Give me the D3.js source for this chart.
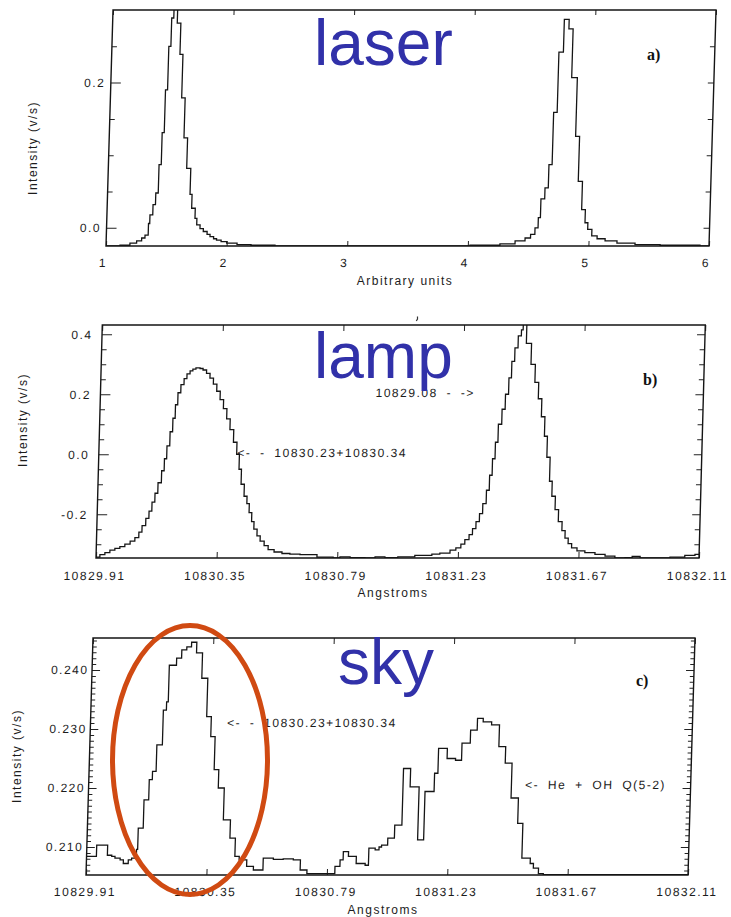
<!DOCTYPE html>
<html>
<head>
<meta charset="utf-8">
<script src="https://cdn.jsdelivr.net/npm/d3@7"></script>
<style>
  html, body { margin: 0; padding: 0; background: #fff; }
  svg { display: block; }
  .tick text, .lbl {
    font-family: "Liberation Sans", Arial, sans-serif;
    font-size: 12px;
    letter-spacing: 1.5px;
    fill: #1c1c1c;
  }
  .note { word-spacing: 4px; white-space: pre; }
  .tick line { stroke: #222; stroke-width: 1; }
  .frame { fill: none; stroke: #151515; stroke-width: 1.4; }
  .trace { fill: none; stroke: #151515; stroke-width: 1.3; stroke-linejoin: miter; }
  .tag { font-family: "Liberation Serif", "Times New Roman", serif; font-size: 16px; font-weight: bold; fill: #111; }
  .big { font-family: "Liberation Sans", Arial, sans-serif; font-size: 64px; fill: #3131a9; }
</style>
</head>
<body>
<svg id="fig" width="731" height="917"></svg>
<script>
// ---------- a) laser scan: bin left edges (arbitrary units) and intensity (v/s) ----------
const laserX = [1.000, 1.116, 1.198, 1.253, 1.294, 1.321, 1.347, 1.357, 1.380, 1.400,
  1.420, 1.438, 1.455, 1.472, 1.489, 1.506, 1.536, 1.566, 1.591, 1.620,
  1.650, 1.684, 1.701, 1.731, 1.747, 1.775, 1.803, 1.835, 1.860, 1.890,
  1.915, 1.953, 2.000, 2.086, 2.202, 2.401, 4.018, 4.266, 4.391, 4.473,
  4.518, 4.553, 4.578, 4.595, 4.626, 4.653, 4.679, 4.708, 4.745, 4.785,
  4.820, 4.867, 4.900, 4.935, 4.966, 4.990, 5.025, 5.070, 5.137, 5.236,
  5.386, 5.594, 5.925, 6.000];
const laserY = [-0.025, -0.024, -0.021, -0.018, -0.014, -0.010, 0.006, 0.018, 0.032, 0.048,
  0.087, 0.131, 0.190, 0.250, 0.289, 0.320, 0.282, 0.239, 0.179, 0.124,
  0.082, 0.046, 0.027, 0.013, 0.004, -0.001, -0.005, -0.009, -0.012, -0.015,
  -0.017, -0.019, -0.021, -0.023, -0.024, -0.025, -0.024, -0.022, -0.018, -0.014,
  -0.009, 0.000, 0.014, 0.040, 0.055, 0.087, 0.159, 0.242, 0.287, 0.274,
  0.207, 0.126, 0.064, 0.025, 0.007, -0.002, -0.011, -0.015, -0.018, -0.021,
  -0.023, -0.024, -0.025, -0.025];

// ---------- b) lamp spectrum: bin left edges (Angstroms) and intensity (v/s) ----------
const lampX = [10829.910, 10829.924, 10829.942, 10829.960, 10829.978, 10829.996, 10830.014, 10830.033, 10830.050, 10830.064,
  10830.075, 10830.088, 10830.099, 10830.109, 10830.119, 10830.129, 10830.141, 10830.150, 10830.158, 10830.168,
  10830.177, 10830.185, 10830.193, 10830.203, 10830.214, 10830.224, 10830.235, 10830.245, 10830.256, 10830.271,
  10830.282, 10830.295, 10830.308, 10830.321, 10830.334, 10830.347, 10830.360, 10830.373, 10830.386, 10830.400,
  10830.413, 10830.423, 10830.432, 10830.444, 10830.455, 10830.464, 10830.474, 10830.483, 10830.495, 10830.507,
  10830.522, 10830.537, 10830.559, 10830.588, 10830.617, 10830.654, 10830.716, 10830.775, 10830.800, 10830.837,
  10830.891, 10830.928, 10830.964, 10831.011, 10831.073, 10831.135, 10831.164, 10831.201, 10831.222, 10831.240,
  10831.254, 10831.269, 10831.281, 10831.293, 10831.305, 10831.316, 10831.328, 10831.338, 10831.347, 10831.356,
  10831.365, 10831.377, 10831.388, 10831.399, 10831.408, 10831.418, 10831.429, 10831.440, 10831.446, 10831.459,
  10831.478, 10831.494, 10831.508, 10831.521, 10831.534, 10831.545, 10831.557, 10831.567, 10831.580, 10831.593,
  10831.607, 10831.619, 10831.631, 10831.644, 10831.664, 10831.693, 10831.730, 10831.767, 10831.803, 10831.840,
  10831.866, 10831.895, 10831.949, 10832.004, 10832.058, 10832.095, 10832.110];
const lampY = [-0.343, -0.335, -0.328, -0.320, -0.314, -0.308, -0.300, -0.290, -0.278, -0.260,
  -0.238, -0.214, -0.190, -0.160, -0.130, -0.095, -0.055, -0.015, 0.028, 0.075,
  0.120, 0.165, 0.205, 0.232, 0.252, 0.268, 0.278, 0.284, 0.288, 0.286,
  0.281, 0.270, 0.254, 0.234, 0.210, 0.182, 0.152, 0.118, 0.082, 0.040,
  0.000, -0.050, -0.100, -0.140, -0.165, -0.195, -0.225, -0.250, -0.272, -0.290,
  -0.305, -0.318, -0.326, -0.331, -0.333, -0.335, -0.343, -0.346, -0.342, -0.345,
  -0.346, -0.342, -0.345, -0.342, -0.337, -0.333, -0.330, -0.320, -0.312, -0.300,
  -0.285, -0.268, -0.248, -0.225, -0.198, -0.165, -0.120, -0.070, -0.015, 0.040,
  0.100, 0.150, 0.200, 0.255, 0.310, 0.355, 0.395, 0.415, 0.450, 0.370,
  0.300, 0.240, 0.185, 0.125, 0.060, -0.010, -0.090, -0.140, -0.185, -0.225,
  -0.255, -0.280, -0.298, -0.312, -0.322, -0.328, -0.334, -0.340, -0.346, -0.345,
  -0.341, -0.346, -0.346, -0.343, -0.337, -0.334, -0.334];

// ---------- c) sky spectrum: bin left edges (Angstroms) and intensity (v/s) ----------
const skyX = [10829.910, 10829.946, 10829.986, 10830.002, 10830.014, 10830.033, 10830.045, 10830.063, 10830.075, 10830.092,
  10830.096, 10830.114, 10830.131, 10830.142, 10830.155, 10830.175, 10830.186, 10830.192, 10830.218, 10830.236,
  10830.254, 10830.271, 10830.290, 10830.312, 10830.334, 10830.351, 10830.367, 10830.384, 10830.406, 10830.432,
  10830.452, 10830.468, 10830.496, 10830.521, 10830.556, 10830.593, 10830.629, 10830.666, 10830.692, 10830.717,
  10830.819, 10830.837, 10830.848, 10830.867, 10830.896, 10830.929, 10830.941, 10830.964, 10830.978, 10830.987,
  10831.009, 10831.033, 10831.059, 10831.085, 10831.118, 10831.140, 10831.173, 10831.185, 10831.217, 10831.248,
  10831.270, 10831.300, 10831.324, 10831.345, 10831.376, 10831.405, 10831.430, 10831.455, 10831.482, 10831.501,
  10831.532, 10831.544, 10831.563, 10831.581, 10832.110];
const skyY = [0.2084, 0.2103, 0.2086, 0.2084, 0.2081, 0.2078, 0.2072, 0.2078, 0.2081, 0.2096,
  0.2132, 0.2180, 0.2214, 0.2228, 0.2273, 0.2332, 0.2346, 0.2408, 0.2420, 0.2434,
  0.2439, 0.2447, 0.2429, 0.2386, 0.2321, 0.2287, 0.2231, 0.2200, 0.2146, 0.2115,
  0.2084, 0.2078, 0.2067, 0.2061, 0.2081, 0.2079, 0.2080, 0.2078, 0.2061, 0.2055,
  0.2067, 0.2078, 0.2092, 0.2084, 0.2072, 0.2069, 0.2098, 0.2095, 0.2100, 0.2103,
  0.2115, 0.2137, 0.2233, 0.2202, 0.2112, 0.2194, 0.2225, 0.2267, 0.2250, 0.2247,
  0.2276, 0.2298, 0.2318, 0.2312, 0.2307, 0.2270, 0.2242, 0.2183, 0.2140, 0.2081,
  0.2072, 0.2064, 0.2055, 0.2053, 0.2053];

// ---------- ticks ----------
const unitTicks = [1, 2, 3, 4, 5, 6];
const angTicks = [10829.91, 10830.35, 10830.79, 10831.23, 10831.67, 10832.11];
const laserYTicks = [0.0, 0.2];
const laserYMinor = [0.05, 0.10, 0.15, 0.25];
const lampYTicks = [-0.2, 0.0, 0.2, 0.4];
const lampYMinor = [-0.30, -0.25, -0.15, -0.10, -0.05, 0.05, 0.10, 0.15, 0.25, 0.30, 0.35];
const skyYTicks = [0.210, 0.220, 0.230, 0.240];
// minor ticks every 0.001 between the labelled ones
const skyYMinor = d3.range(206, 246).filter(k => k % 10 !== 0).map(k => k / 1000);

// ---------- text ----------
const yTitle = "Intensity (v/s)";
const laserXTitle = "Arbitrary units";
const angXTitle = "Angstroms";

// plain hyphen for negative numbers, fixed decimals
const fixed = n => v => v.toFixed(n);

const svg = d3.select("#fig");
svg.append("rect").attr("width", 731).attr("height", 917).attr("fill", "#fff");

const panels = [
  { id: "a", xs: laserX, ys: laserY, xDomain: [1, 6], yDomain: [-0.025, 0.300],
    box: { l: 106, r: 709, t: 10, b: 246 }, shear: 0.0297,
    xTicks: unitTicks, xFmt: fixed(0), xShift: -3, xPad: 12.5,
    yTicks: laserYTicks, yMinor: laserYMinor, yFmt: fixed(1), yPad: 5.5,
    leftMajor: 10, leftMinor: 5, rightMajor: 6, rightMinor: 5, xTickLen: 5,
    notes: [] },
  { id: "b", xs: lampX, ys: lampY, xDomain: [10829.91, 10832.11], yDomain: [-0.346, 0.431],
    box: { l: 96, r: 699, t: 325, b: 558 }, shear: 0.027,
    xTicks: angTicks, xFmt: fixed(2), xShift: -1.5, xPad: 13.5,
    yTicks: lampYTicks, yMinor: lampYMinor, yFmt: fixed(1), yPad: 9.5,
    leftMajor: 10, leftMinor: 5, rightMajor: 8, rightMinor: 5, xTickLen: 6,
    notes: [
      { text: "<- - 10830.23+10830.34", x: 10830.415, y: 0.003, anchor: "start" },
      { text: "10829.08 - ->", x: 10831.276, y: 0.204, anchor: "end" }
    ] },
  { id: "c", xs: skyX, ys: skyY, xDomain: [10829.91, 10832.11], yDomain: [0.20525, 0.24542],
    box: { l: 86, r: 688, t: 638, b: 875 }, shear: 0.0295,
    xTicks: angTicks, xFmt: fixed(2), xShift: -1, xPad: 12.5,
    yTicks: skyYTicks, yMinor: skyYMinor, yFmt: fixed(3), yPad: 3.5,
    leftMajor: 8, leftMinor: 4, rightMajor: 8, rightMinor: 4, xTickLen: 6,
    notes: [
      { text: "<- - 10830.23+10830.34", x: 10830.409, y: 0.2310, anchor: "start" },
      { text: "<- He + OH Q(5-2)", x: 10831.505, y: 0.2205, anchor: "start" }
    ] }
];

panels.forEach(p => {
  const B = p.box;
  const deg = Math.atan(p.shear) * 180 / Math.PI;
  // each printed panel leans slightly: its top edge sits further right than its bottom edge
  const g = svg.append("g")
    .attr("transform", `translate(0,${B.b}) skewX(${-deg}) translate(0,${-B.b})`);

  const x = d3.scaleLinear().domain(p.xDomain).range([B.l, B.r]);
  const y = d3.scaleLinear().domain(p.yDomain).range([B.b, B.t]);

  const clipId = "clip-" + p.id;
  g.append("clipPath").attr("id", clipId)
    .append("rect").attr("x", B.l).attr("y", B.t)
    .attr("width", B.r - B.l).attr("height", B.b - B.t);

  const strip = sel => sel.call(s => s.select(".domain").remove());

  // bottom axis with labels
  g.append("g").attr("transform", `translate(0,${B.b})`)
    .call(d3.axisBottom(x).tickValues(p.xTicks).tickFormat(p.xFmt)
      .tickSizeInner(-p.xTickLen).tickSizeOuter(0).tickPadding(p.xPad))
    .call(strip)
    .call(s => s.selectAll(".tick text").attr("dx", p.xShift));
  // top axis ticks
  g.append("g").attr("transform", `translate(0,${B.t})`)
    .call(d3.axisTop(x).tickValues(p.xTicks).tickFormat(() => "")
      .tickSizeInner(-p.xTickLen).tickSizeOuter(0))
    .call(strip);
  // left axis: labelled majors and minors
  g.append("g").attr("transform", `translate(${B.l},0)`)
    .call(d3.axisLeft(y).tickValues(p.yTicks).tickFormat(p.yFmt)
      .tickSizeInner(-p.leftMajor).tickSizeOuter(0).tickPadding(p.yPad))
    .call(strip);
  g.append("g").attr("transform", `translate(${B.l},0)`)
    .call(d3.axisLeft(y).tickValues(p.yMinor).tickFormat(() => "")
      .tickSizeInner(-p.leftMinor).tickSizeOuter(0))
    .call(strip);
  // right axis mirror ticks
  g.append("g").attr("transform", `translate(${B.r},0)`)
    .call(d3.axisRight(y).tickValues(p.yTicks).tickFormat(() => "")
      .tickSizeInner(-p.rightMajor).tickSizeOuter(0))
    .call(strip);
  g.append("g").attr("transform", `translate(${B.r},0)`)
    .call(d3.axisRight(y).tickValues(p.yMinor).tickFormat(() => "")
      .tickSizeInner(-p.rightMinor).tickSizeOuter(0))
    .call(strip);

  // the spectrum as a histogram-style step trace
  const line = d3.line()
    .x(d => x(d[0])).y(d => y(d[1]))
    .curve(d3.curveStepAfter);
  g.append("path").attr("class", "trace")
    .attr("clip-path", `url(#${clipId})`)
    .attr("d", line(d3.zip(p.xs, p.ys)));

  // plot frame
  g.append("rect").attr("class", "frame")
    .attr("x", B.l).attr("y", B.t)
    .attr("width", B.r - B.l).attr("height", B.b - B.t);

  // line identifications
  p.notes.forEach(n => {
    g.append("text").attr("class", "lbl note")
      .attr("x", x(n.x)).attr("y", y(n.y))
      .attr("dy", "0.34em")
      .attr("text-anchor", n.anchor)
      .text(n.text);
  });
});

// axis titles
const titles = [
  { t: yTitle, x: 37, y: 148, rot: true },
  { t: yTitle, x: 27, y: 420, rot: true },
  { t: yTitle, x: 21, y: 756, rot: true },
  { t: laserXTitle, x: 405, y: 285, rot: false },
  { t: angXTitle, x: 393, y: 597, rot: false },
  { t: angXTitle, x: 383, y: 914, rot: false }
];
titles.forEach(d => {
  svg.append("text").attr("class", "lbl")
    .attr("text-anchor", "middle")
    .attr("transform", d.rot ? `translate(${d.x},${d.y}) rotate(-90)` : `translate(${d.x},${d.y})`)
    .text(d.t);
});

// panel tags
[{ t: "a)", x: 647, y: 60 }, { t: "b)", x: 643, y: 385 }, { t: "c)", x: 636, y: 686 }]
  .forEach(d => svg.append("text").attr("class", "tag").attr("x", d.x).attr("y", d.y).text(d.t));

// small ink speck printed above the lamp panel
svg.append("path")
  .attr("d", "M417.5,316.5 L417.5,319 L416.3,321")
  .attr("fill", "none").attr("stroke", "#333").attr("stroke-width", 1.2);

// source labels
[{ t: "laser", x: 314, y: 65 }, { t: "lamp", x: 314, y: 378 }, { t: "sky", x: 338, y: 684 }]
  .forEach(d => svg.append("text").attr("class", "big").attr("x", d.x).attr("y", d.y).text(d.t));

// highlight around the He I 10830 feature in the sky spectrum
svg.append("ellipse")
  .attr("cx", 190).attr("cy", 760).attr("rx", 77.5).attr("ry", 134.5)
  .attr("fill", "none").attr("stroke", "#d04a12").attr("stroke-width", 5);
</script>
</body>
</html>
